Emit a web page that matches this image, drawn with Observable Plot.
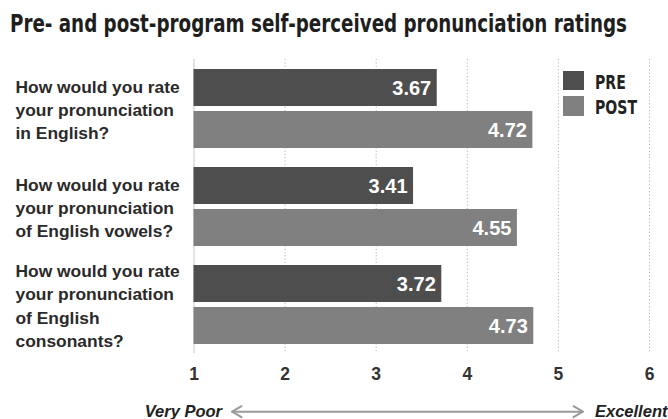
<!DOCTYPE html>
<html>
<head>
<meta charset="utf-8">
<script src="https://cdn.jsdelivr.net/npm/d3@7"></script>
<script src="https://cdn.jsdelivr.net/npm/@observablehq/plot@0.6"></script>
<style>
  body { margin: 0; background: #fff; }
  #wrap { position: relative; width: 668px; height: 419px; overflow: hidden; background: #fff; }
  #title { height: 50px; box-sizing: border-box; padding: 12px 0 0 10px; font-family: "DejaVu Sans Condensed", "DejaVu Sans", sans-serif; font-weight: bold; font-size: 24.3px; line-height: 24.3px; color: #1e1e1e; white-space: nowrap; }
  .fit { display: inline-block; transform-origin: 0 50%; }
  .leg { position: absolute; font-family: "DejaVu Sans Condensed", "DejaVu Sans", sans-serif; font-weight: bold; font-size: 19.2px; line-height: 19.2px; color: #222; white-space: nowrap; }
  .sw { position: absolute; width: 21px; }
  .scale { position: absolute; font-family: "Liberation Sans", Arial, sans-serif; font-weight: bold; font-style: italic; font-size: 16.5px; line-height: 16.5px; color: #222; white-space: nowrap; }
  #plot { height: 338px; }
</style>
</head>
<body>
<div id="wrap">
  <div id="title"><span class="fit" id="titleText">Pre- and post-program self-perceived pronunciation ratings</span></div>
  <div id="plot"></div>
  <div class="sw" id="sw0" style="left:563px; top:71px; height:19px;"></div>
  <div class="sw" id="sw1" style="left:563px; top:96px; height:19.5px;"></div>
  <div class="leg" style="left:595px; top:73px;"><span class="fit" id="leg0"></span></div>
  <div class="leg" style="left:595px; top:98px;"><span class="fit" id="leg1"></span></div>
  <div class="scale" style="right:446px; top:403px;">Very Poor</div>
  <div class="scale" style="left:595px; top:403px;">Excellent</div>
  <svg style="position:absolute; left:228px; top:402px;" width="360" height="20">
    <g fill="none" stroke="#9a9a9a" stroke-width="2" stroke-linecap="round" stroke-linejoin="round">
      <line x1="4.5" y1="9.7" x2="354" y2="9.7"/>
      <polyline points="13.5,4.2 4,9.7 13.5,15.2"/>
      <polyline points="345.5,4.2 355,9.7 345.5,15.2"/>
    </g>
  </svg>
</div>
<script>
// ---- data ----
const questions = ["english", "vowels", "consonants"];
const questionLabels = [
  "How would you rate\nyour pronunciation\nin English?",
  "How would you rate\nyour pronunciation\nof English vowels?",
  "How would you rate\nyour pronunciation\nof English\nconsonants?"
];
const series = ["PRE", "POST"];
const preValues = [3.67, 3.41, 3.72];
const postValues = [4.72, 4.55, 4.73];
const xTicks = [1, 2, 3, 4, 5, 6];
const colors = ["#4e4e4e", "#808080"];

const data = [];
questions.forEach((q, i) => {
  data.push({question: q, series: "PRE", value: preValues[i]});
  data.push({question: q, series: "POST", value: postValues[i]});
});
const labelOf = new Map(questions.map((q, i) => [q, questionLabels[i]]));

const plot = Plot.plot({
  width: 668,
  height: 338,
  marginTop: 9,
  marginBottom: 35,
  marginLeft: 193.5,
  marginRight: 19,
  style: {fontFamily: "Liberation Sans, Arial, sans-serif", fontSize: "17px", fontWeight: "bold", color: "#2a2a2a", background: "#fff"},
  x: {domain: [1, 6]},
  y: {domain: series, paddingInner: 0.12, paddingOuter: 0.21, axis: null},
  fy: {domain: questions, padding: 0},
  color: {domain: series, range: colors},
  marks: [
    Plot.ruleX(xTicks.slice(1), {stroke: "#b5b5b5", strokeDasharray: "1.2,2.2", strokeWidth: 1}),
    Plot.ruleX(xTicks.slice(0, 1), {stroke: "#d0d0d0", strokeWidth: 1.2}),
    Plot.barX(data, {x1: 1, x2: "value", y: "series", fy: "question", fill: "series"}),
    Plot.text(data, {x: "value", y: "series", fy: "question", text: d => d.value.toFixed(2), textAnchor: "end", dx: -6, dy: 1, fill: "white", fontWeight: "bold", fontSize: 20}),
    Plot.axisX({ticks: xTicks, tickFormat: "d", tickSize: 0, tickPadding: 14, label: null, fontSize: 17.5, fontWeight: "bold", fill: "#333"}),
    Plot.axisFy({anchor: "left", tickSize: 0, tickPadding: 0, textAnchor: "start", dx: -178.5, label: null, tickFormat: q => labelOf.get(q), fontSize: 17.4, fontWeight: "bold", lineHeight: 1.34, fill: "#2a2a2a"})
  ]
});
document.getElementById("plot").appendChild(plot);

// legend from the color scale
const colorScale = plot.scale("color");
series.forEach((s, i) => {
  document.getElementById("sw" + i).style.background = colorScale.range[i];
  document.getElementById("leg" + i).textContent = s;
});

function fit(el, target) {
  const w = el.getBoundingClientRect().width;
  el.style.transform = `scaleX(${target / w})`;
  return target / w;
}
fit(document.getElementById("titleText"), 617);
const k = fit(document.getElementById("leg1"), 42);
document.getElementById("leg0").style.transform = `scaleX(${k})`;
</script>
</body>
</html>
